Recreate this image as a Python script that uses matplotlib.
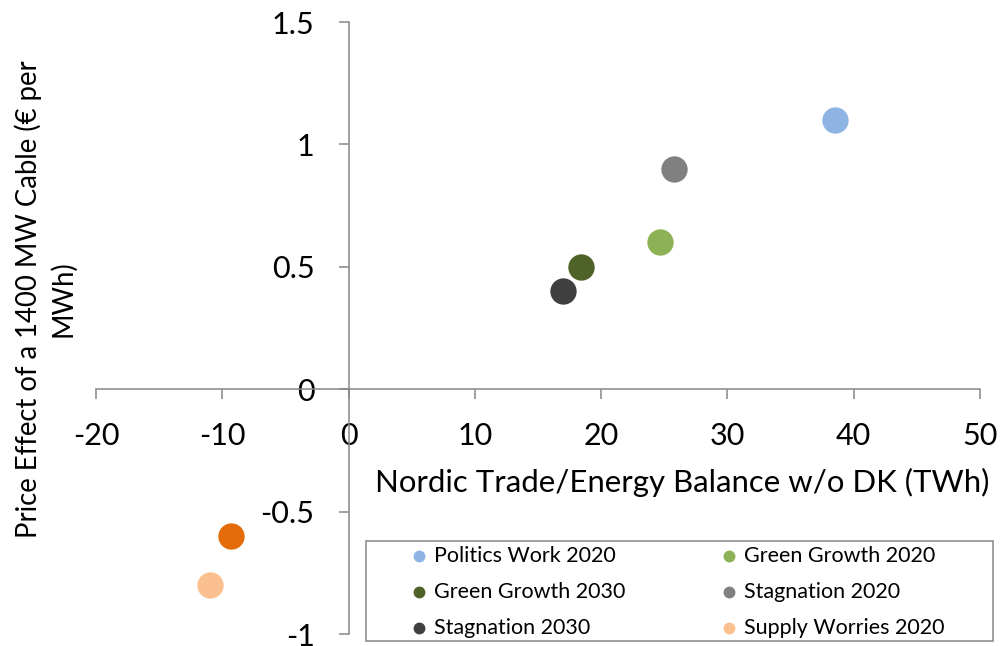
import matplotlib.pyplot as plt
from matplotlib.patches import Rectangle

plt.rcParams['font.family'] = ['Lato', 'DejaVu Sans']
plt.rcParams['axes.unicode_minus'] = False

# scenario points (Nordic trade balance TWh, price effect EUR/MWh)
scenarios = ["Politics Work 2020", "Green Growth 2030", "Stagnation 2030",
             "Green Growth 2020", "Stagnation 2020", "Supply Worries 2020"]
trade = [38.5, 18.4, 17.0, 24.7, 25.8, -11.0]
price = [1.10, 0.50, 0.40, 0.60, 0.90, -0.80]
colors = ["#8EB4E3", "#4F6228", "#404040", "#8DB255", "#808080", "#FAC090"]

# extra point with no legend entry
extra_trade = [-9.3]
extra_price = [-0.60]

W, H = 1002, 646
fig = plt.figure(figsize=(W/100, H/100), dpi=100)
ax = fig.add_axes([96/W, 1-634/H, 884/W, 612/H])

handles = []
for name, x, y, c in zip(scenarios, trade, price, colors):
    h = ax.scatter([x], [y], s=360, color=c, label=name, zorder=3, linewidths=0)
    handles.append(h)
ax.scatter(extra_trade, extra_price, s=360, color="#E46C0A", zorder=3, linewidths=0)

ax.set_xlim(-20, 50)
ax.set_ylim(-1, 1.5)
ax.set_xticks(range(-20, 51, 10))
ax.set_yticks([-1, -0.5, 0, 0.5, 1, 1.5])
ax.set_yticklabels(["-1", "-0.5", "0", "0.5", "1", "1.5"])

for s in ["top", "right"]:
    ax.spines[s].set_visible(False)
ax.spines["left"].set_position(("data", 0))
ax.spines["bottom"].set_position(("data", 0))
for s in ["left", "bottom"]:
    ax.spines[s].set_color("#868686")
    ax.spines[s].set_linewidth(1.1)
ax.tick_params(axis="both", direction="out", length=7.5, width=1.1,
               color="#868686", labelsize=22, labelcolor="black")
ax.tick_params(axis="x", pad=16)
ax.tick_params(axis="y", pad=17)

fig.text(682/W, 1-492/H, "Nordic Trade/Energy Balance w/o DK (TWh)",
         ha="center", va="baseline", fontsize=22.4)

fig.text(45/W, 1-299/H, "Price Effect of a 1400 MW Cable (€ per\nMWh)",
         rotation=90, ha="center", va="center", multialignment="center",
         fontsize=19.8, linespacing=1.35)

# legend box drawn separately, entries spread inside it
fig.patches.append(Rectangle((366/W, 1-641/H), 627/W, 100/H, transform=fig.transFigure,
                             fill=False, edgecolor="#868686", linewidth=1.1))
leg = fig.legend(handles=handles, loc="upper left", ncol=2, mode="expand",
                 bbox_to_anchor=(410/W, 1-552/H, 535/W, 0.01),
                 fontsize=15.5, frameon=False, markerscale=0.45,
                 handlelength=0.8, handletextpad=0.3, borderaxespad=0,
                 borderpad=0, labelspacing=0.75)

fig.savefig("out.png", dpi=100)
